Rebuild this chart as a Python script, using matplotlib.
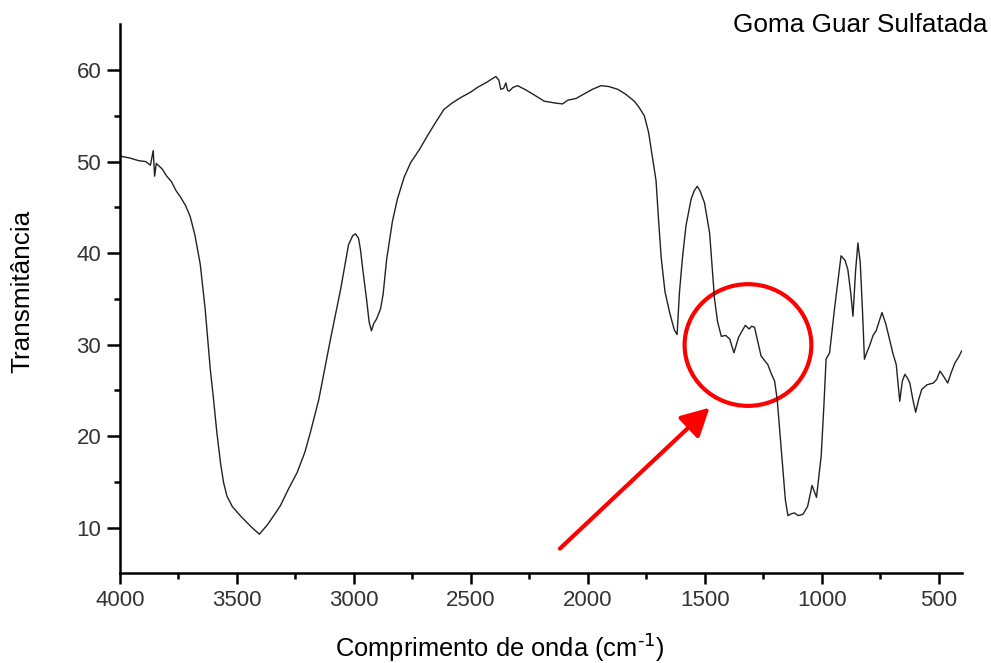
import numpy as np
import matplotlib
matplotlib.use('Agg')
import matplotlib.pyplot as plt
from matplotlib.patches import Ellipse

# FTIR spectrum: wavenumber (cm-1) and transmittance
wavenumber = [4000, 3960, 3920, 3890, 3870, 3858, 3852, 3845, 3820, 3800,
              3780, 3760, 3743, 3720, 3700, 3680, 3657, 3636, 3614, 3600,
              3586, 3570, 3557, 3543, 3520, 3486, 3440, 3404, 3370, 3340,
              3314, 3280, 3243, 3210, 3186, 3150, 3100, 3057, 3023, 3005,
              2993, 2980, 2972, 2960, 2946, 2935, 2925, 2915, 2903, 2886,
              2875, 2860, 2835, 2814, 2785, 2757, 2720, 2686, 2650, 2615,
              2580, 2543, 2500, 2472, 2430, 2393, 2380, 2372, 2360, 2350,
              2343, 2336, 2320, 2300, 2270, 2243, 2186, 2140, 2108, 2086,
              2050, 2015, 1980, 1943, 1910, 1872, 1840, 1801, 1780, 1758,
              1740, 1729, 1708, 1697, 1686, 1670, 1650, 1630, 1618, 1608,
              1595, 1580, 1558, 1545, 1532, 1520, 1501, 1479, 1458, 1445,
              1429, 1410, 1393, 1375, 1355, 1340, 1326, 1310, 1300, 1287,
              1259, 1230, 1215, 1201, 1190, 1173, 1155, 1144, 1130, 1116,
              1100, 1080, 1060, 1041, 1022, 1002, 990, 981, 966, 945,
              917, 900, 888, 875, 866, 855, 845, 835, 825, 817,
              806, 796, 780, 767, 742, 725, 710, 695, 681, 666,
              655, 644, 632, 623, 610, 598, 585, 572, 550, 522,
              508, 494, 478, 461, 445, 430, 415, 401]
transmit = [50.6, 50.4, 50.1, 50.0, 49.6, 51.2, 48.4, 49.8, 49.2, 48.4,
            47.8, 46.8, 46.2, 45.2, 44.0, 42.0, 38.8, 33.9, 27.3, 24.0,
            20.4, 17.0, 14.9, 13.45, 12.3, 11.3, 10.1, 9.27, 10.3, 11.4,
            12.4, 14.2, 16.0, 18.2, 20.4, 24.0, 30.6, 36.0, 40.9, 41.9,
            42.1, 41.6, 40.4, 37.8, 35.0, 32.5, 31.5, 32.3, 32.8, 33.9,
            35.5, 39.3, 43.5, 45.9, 48.3, 49.9, 51.3, 52.8, 54.3, 55.7,
            56.4, 57.0, 57.6, 58.1, 58.7, 59.3, 58.9, 57.9, 58.0, 58.6,
            57.8, 57.7, 58.1, 58.3, 57.9, 57.5, 56.6, 56.4, 56.3, 56.7,
            56.9, 57.4, 57.9, 58.3, 58.2, 57.9, 57.4, 56.6, 55.9, 55.0,
            53.2, 51.4, 47.9, 43.5, 39.5, 35.8, 33.5, 31.6, 31.1, 35.7,
            39.5, 43.0, 45.9, 46.8, 47.3, 46.8, 45.5, 42.2, 35.0, 32.5,
            30.9, 31.0, 30.6, 29.1, 30.8, 31.5, 32.1, 31.7, 32.0, 31.9,
            28.75, 27.8, 26.8, 26.0, 24.0, 18.6, 13.0, 11.3, 11.5, 11.6,
            11.3, 11.45, 12.3, 14.6, 13.3, 17.8, 23.5, 28.4, 29.1, 33.9,
            39.7, 39.2, 38.2, 35.5, 33.1, 38.0, 41.1, 39.0, 33.5, 28.4,
            29.2, 29.8, 31.0, 31.5, 33.5, 32.2, 30.6, 29.0, 27.8, 23.8,
            26.0, 26.75, 26.3, 25.8, 24.0, 22.6, 24.0, 25.1, 25.6, 25.8,
            26.2, 27.1, 26.5, 25.8, 27.0, 28.0, 28.6, 29.3]

xticks = [4000, 3500, 3000, 2500, 2000, 1500, 1000, 500]
yticks = [10, 20, 30, 40, 50, 60]

# highlighted region (circle) and arrow pointing to it
circ_center = (1315, 29.95)
circ_size = (542, 13.3)
arrow_tail = (2119, 7.7)
arrow_tip = (1479, 23.1)

plt.rcParams['font.family'] = ['Liberation Sans', 'DejaVu Sans']
fig = plt.figure(figsize=(9.91, 6.63), dpi=100)
ax = fig.add_axes([0.1211, 0.1353, 0.8496, 0.828])

ax.plot(wavenumber, transmit, color='#222222', lw=1.0)

ax.set_xlim(4000, 400)
ax.set_ylim(5, 65)
ax.set_xticks(xticks)
ax.set_yticks(yticks)
ax.set_xticks(np.arange(3750, 400, -500), minor=True)
ax.set_yticks(np.arange(15, 65, 10), minor=True)

ax.spines['top'].set_visible(False)
ax.spines['right'].set_visible(False)
ax.spines['left'].set_linewidth(1.8)
ax.spines['bottom'].set_linewidth(1.8)
ax.tick_params(axis='x', which='major', direction='out', length=8, width=1.8,
               labelsize=16, labelcolor='#333333', pad=4)
ax.tick_params(axis='y', which='major', direction='out', length=9.5, width=1.8,
               labelsize=16, labelcolor='#333333', pad=4)
ax.tick_params(which='minor', direction='out', length=4.5, width=1.8)

ax.set_xlabel(r'Comprimento de onda (cm$^{\text{-1}}$)', fontsize=18.4)
ax.xaxis.set_label_coords(0.451, -0.104)
ax.set_ylabel('Transmitância', fontsize=18.8)
ax.yaxis.set_label_coords(-0.102, 0.513)

fig.text(0.996, 0.963, 'Goma Guar Sulfatada', fontsize=18.8, ha='right', va='center')

ell = Ellipse(circ_center, circ_size[0], circ_size[1], fill=False,
              edgecolor='red', lw=3)
ax.add_patch(ell)
ax.annotate('', xy=arrow_tip, xytext=arrow_tail,
            arrowprops=dict(arrowstyle='-|>,head_length=1.7,head_width=0.9',
                            mutation_scale=10, lw=3, color='red',
                            shrinkA=0, shrinkB=0))

plt.savefig('out.png', dpi=100)
